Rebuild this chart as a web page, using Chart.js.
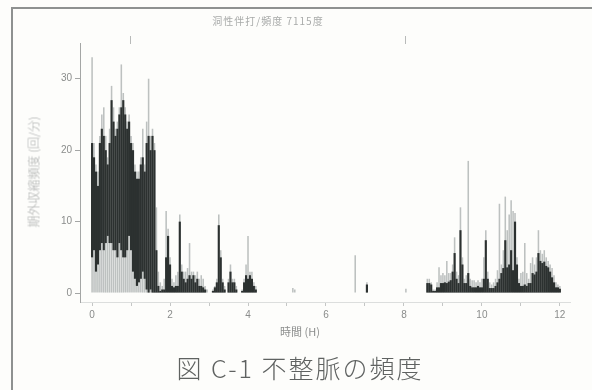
<!DOCTYPE html>
<html>
<head>
<meta charset="utf-8">
<script src="https://cdn.jsdelivr.net/npm/chart.js@4"></script>
<style>
  html, body { margin: 0; padding: 0; background: #fdfdfb; }
  #wrap { position: relative; width: 592px; height: 390px; overflow: hidden;
          font-family: "Noto Sans CJK JP", "Noto Sans", sans-serif; }
  #chart { position: absolute; left: 0; top: 0; }
  .frame { position: absolute; left: 11px; top: 7px; width: 640px; height: 440px;
           border-left: 2px solid #8e9190; border-top: 2px solid #8e9190; }
  .title { position: absolute; left: 268px; top: 20px; transform: translate(-50%, -50%);
           font-size: 10px; color: #a8aaa9; white-space: nowrap; letter-spacing: 1px; }
  .ylab { position: absolute; left: 33px; top: 172px; transform: translate(-50%, -50%) rotate(-90deg);
          font-size: 12px; color: #aaacab; white-space: nowrap; font-weight: 300; }
  .xlab { position: absolute; left: 300px; top: 331px; transform: translate(-50%, -50%);
          font-size: 11px; color: #8c8e8d; white-space: nowrap; }
  .caption { position: absolute; left: 300px; top: 367px; transform: translate(-50%, -50%);
             font-size: 25px; color: #5f6261; white-space: nowrap; letter-spacing: 2px; font-weight: 300; }
  .mark { position: absolute; width: 1px; height: 8px; background: #b8bab9; top: 36px; }
</style>
</head>
<body>
<div id="wrap">
  <div class="frame"></div>
  <canvas id="chart" width="592" height="390"></canvas>
  <div class="title">洞性伴打/頻度 7115度</div>
  <div class="mark" style="left:130px"></div>
  <div class="mark" style="left:405px"></div>
  <div class="ylab">期外収縮頻度 (回/分)</div>
  <div class="xlab">時間 (H)</div>
  <div class="caption">図 C-1 不整脈の頻度</div>
</div>
<script>
// === data (hours) ===
const hours = [
  0.00, 0.05, 0.10, 0.15, 0.20, 0.25, 0.30, 0.35, 0.40, 0.45,
  0.50, 0.55, 0.60, 0.65, 0.70, 0.75, 0.80, 0.85, 0.90, 0.95,
  1.00, 1.05, 1.10, 1.15, 1.20, 1.25, 1.30, 1.35, 1.40, 1.45,
  1.50, 1.55, 1.60, 1.65, 1.70,
  1.75, 1.80, 1.85, 1.90, 1.95, 2.00, 2.05, 2.10, 2.15, 2.20,
  2.25, 2.30, 2.35, 2.40, 2.45, 2.50, 2.55, 2.60, 2.65, 2.70,
  2.75, 2.80, 2.85, 2.90, 2.95, 3.00, 3.05, 3.10, 3.15, 3.20,
  3.25, 3.30, 3.35, 3.40, 3.45, 3.50, 3.55, 3.60, 3.65, 3.70,
  3.75, 3.80, 3.85, 3.90, 3.95, 4.00, 4.05, 4.10, 4.15, 4.20,
  5.15, 5.20, 6.75, 7.05, 8.05,
  8.60, 8.65, 8.70, 8.75, 8.80, 8.85, 8.90, 8.95, 9.00, 9.05,
  9.10, 9.15, 9.20, 9.25, 9.30, 9.35, 9.40, 9.45, 9.50, 9.55,
  9.60, 9.65, 9.70, 9.75, 9.80, 9.85, 9.90, 9.95, 10.00, 10.05,
  10.10, 10.15, 10.20, 10.25, 10.30, 10.35, 10.40, 10.45, 10.50, 10.55,
  10.60, 10.65, 10.70, 10.75, 10.80, 10.85, 10.90, 10.95, 11.00, 11.05,
  11.10, 11.15, 11.20, 11.25, 11.30, 11.35, 11.40, 11.45, 11.50, 11.55,
  11.60, 11.65, 11.70, 11.75, 11.80, 11.85, 11.90, 11.95, 12.00
];

// dark core: bottom and top of each bar
const darkLow = [
  5, 6, 3, 4, 6, 7, 6, 7, 8, 7,
  7, 6, 6, 5, 7, 6, 5, 5, 6, 8,
  6, 3, 2, 1, 1.5, 2, 3, 2, 0.5, 0,
  0.5, 0, 0, 0, 0,
  0, 0, 0, 0, 0, 0, 0, 0, 0, 0,
  0, 0, 0, 0, 0, 0, 0, 0, 0, 0,
  0, 0, 0, 0, 0, 0, 0, 0, 0, 0,
  0, 0, 0, 0, 0, 0, 0, 0, 0, 0,
  0, 0, 0, 0, 0, 0, 0, 0, 0, 0,
  0, 0, 0, 0, 0,
  0, 0, 0, 0, 0, 0, 0, 0, 0, 0,
  0, 0, 0, 0, 0, 0, 0, 0, 0, 0,
  0, 0, 0, 0, 0, 0, 0, 0, 0, 0,
  0, 0, 0, 0, 0, 0, 0, 0, 0, 0,
  0, 0, 0, 0, 0, 0, 0, 0, 0, 0,
  0, 0, 0, 0, 0, 0, 0, 0, 0, 0,
  0, 0, 0, 0, 0, 0, 0, 0, 0
];
const darkHigh = [
  21, 19, 17, 15, 21, 23, 22, 20, 18, 21,
  27, 24, 22, 23, 25, 26, 27, 25, 23, 24,
  21, 20, 17, 16, 16, 18, 19, 17, 21, 22,
  20, 22, 20, 6, 1,
  0.3, 0.5, 0.5, 5, 8, 4, 1, 0.8, 1, 1,
  10, 3, 2, 1.5, 2, 2.5, 2, 2.5, 1.5, 2,
  1, 1, 0.8, 0.5, 0, 0, 0, 0.3, 0.8, 1.5,
  9.5, 5, 1.5, 0.5, 0, 1.5, 3, 1.5, 1.5, 0.5,
  0, 0, 0.3, 1.5, 2.5, 2, 2.5, 2, 1, 0.5,
  0, 0, 0, 1.2, 0,
  1.4, 1.4, 1.2, 0.3, 0.3, 0.8, 0.8, 1.4, 1.4, 1.5,
  1.4, 1.6, 1.8, 3, 5.6, 2, 1.4, 8.8, 4, 1.4,
  1.4, 2.8, 1, 0.8, 0.8, 0.8, 1, 0.8, 0.8, 2,
  7.4, 2, 0.7, 0.7, 0.7, 1, 1.5, 2, 2.8, 3.5,
  7.4, 3.6, 4, 6, 3.2, 10, 4, 1.4, 1, 1,
  1.2, 1, 1.4, 1.4, 2.8, 2.6, 3, 5.6, 4.5, 4.2,
  4.4, 3.8, 3.6, 3, 2.2, 1.5, 0.8, 0.8, 0.6
];
// pale spread: from zero up to the highest reading
const lightHigh = [
  33, 21, 18, 17, 22, 25, 26, 22, 19, 23,
  29, 26, 23, 24, 26, 32, 28, 26, 24, 25,
  22, 21, 18, 17, 17, 19, 23, 18, 24, 30,
  22, 23, 21, 12, 3,
  1.5, 1, 2, 11.5, 9, 5, 2, 1.5, 2.5, 3,
  11, 4, 3, 3, 3.5, 7, 3, 3, 2.5, 3,
  2, 2.5, 2, 1, 0.5, 0, 0, 0.5, 1, 2,
  11, 6, 2, 1, 0, 2, 4, 2, 2, 1,
  0, 0, 0.5, 2, 4, 8, 3, 3, 1.5, 1,
  0.7, 0.5, 5.3, 1.5, 0.6,
  2, 2, 1.5, 0.5, 0.5, 1.5, 3.6, 2.5, 2.8, 2.5,
  4.5, 2.8, 2.8, 4, 7.8, 3, 2.5, 12, 5, 2,
  2.5, 18.5, 2, 1.8, 1.8, 1.5, 1.8, 1.5, 2, 5,
  8.8, 3, 1.5, 1.2, 1.5, 2, 3.2, 12.5, 4, 6,
  13.5, 8.8, 11, 13, 11.5, 11.2, 5, 2, 2.8, 3,
  7, 2.8, 2, 4.2, 5, 4, 5, 8.8, 6, 5.5,
  6, 5, 4.5, 4, 3.5, 2.5, 1.5, 1.2, 1
];

const xTicks = [0, 1, 2, 3, 4, 5, 6, 7, 8, 9, 10, 11, 12];
const yTicks = [0, 10, 20, 30];

const ctx = document.getElementById("chart").getContext("2d");

new Chart(ctx, {
  type: "bar",
  data: {
    datasets: [
      {
        label: "core",
        data: hours.map((h, i) => ({ x: h, y: [darkLow[i], darkHigh[i]] })),
        backgroundColor: "#2c3130",
        borderWidth: 0,
        grouped: false,
        order: 0,
        barPercentage: 1.1,
        categoryPercentage: 1,
      },
      {
        label: "spread",
        data: hours.map((h, i) => ({ x: h, y: [0, lightHigh[i]] })),
        backgroundColor: "#bdc1c0",
        borderWidth: 0,
        grouped: false,
        order: 1,
        barPercentage: 0.8,
        categoryPercentage: 1,
      },
    ],
  },
  options: {
    responsive: false,
    animation: false,
    layout: { padding: { left: 50, right: 22, top: 43, bottom: 60 } },
    plugins: {
      legend: { display: false },
      tooltip: { enabled: false },
    },
    scales: {
      x: {
        type: "linear",
        offset: false,
        min: -0.31,
        max: 12.26,
        afterFit: (s) => { s.height = 28; },
        afterBuildTicks: (s) => { s.ticks = xTicks.map((v) => ({ value: v })); },
        ticks: {
          autoSkip: false,
          maxRotation: 0,
          color: "#8a8c8b",
          font: { size: 10 },
          padding: 3,
          callback: (v) => (v % 2 === 0 ? String(v) : ""),
        },
        grid: { offset: false, drawOnChartArea: false, tickLength: 4, color: "#c4c6c5" },
        border: { color: "#dcdedd" },
      },
      y: {
        min: -1.25,
        max: 35,
        afterFit: (s) => { s.width = 30; },
        afterBuildTicks: (s) => { s.ticks = yTicks.map((v) => ({ value: v })); },
        ticks: { color: "#8a8c8b", font: { size: 10 }, padding: 3 },
        grid: { drawOnChartArea: false, tickLength: 5, color: "#a4a6a5" },
        border: { color: "#a4a6a5" },
      },
    },
  },
});
</script>
</body>
</html>
